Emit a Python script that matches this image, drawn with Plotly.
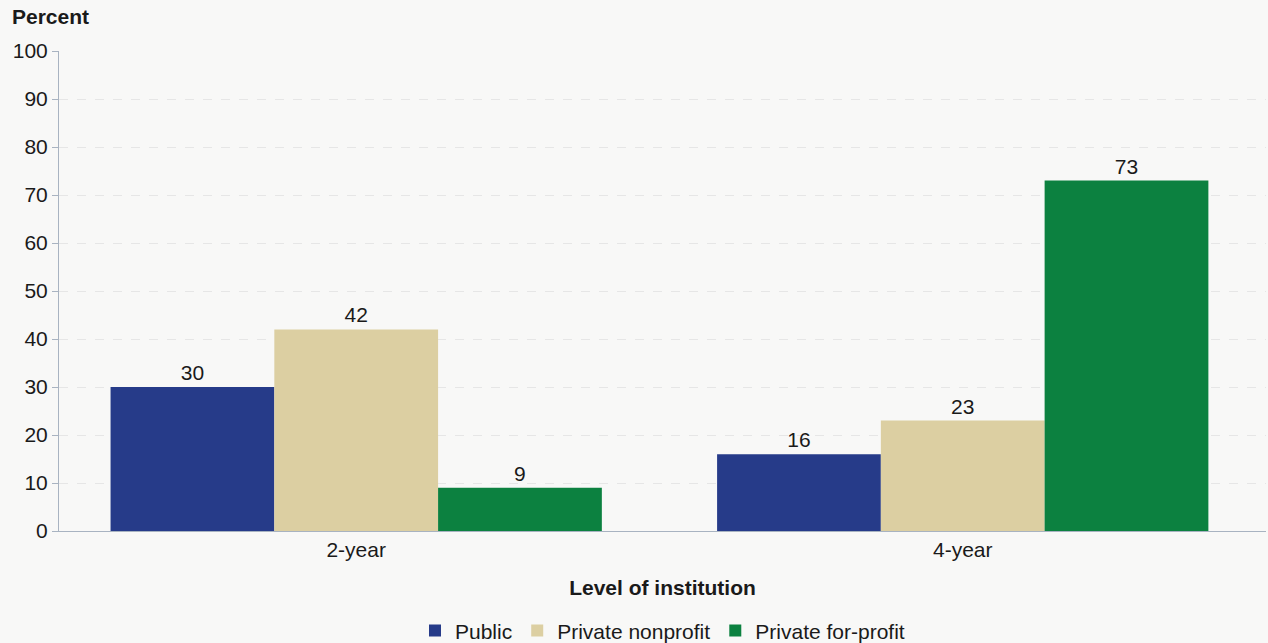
import plotly.graph_objects as go

# Share of students, by level and control of institution
levels = ["2-year", "4-year"]
series_names = ["Public", "Private nonprofit", "Private for-profit"]
public = [30, 16]
private_nonprofit = [42, 23]
private_for_profit = [9, 73]
y_ticks = [0, 10, 20, 30, 40, 50, 60, 70, 80, 90, 100]

colors = ["#263b89", "#dccfa2", "#0c8140"]
values = [public, private_nonprofit, private_for_profit]

FONT = "Liberation Sans, Arial, sans-serif"
BG = "#f8f8f7"
SIZE = 21

fig = go.Figure()
for name, vals, col in zip(series_names, values, colors):
    fig.add_trace(go.Bar(
        x=levels, y=vals, name=name,
        marker=dict(color=col, line=dict(width=0)),
        text=[str(v) for v in vals], textposition="outside",
        textfont=dict(size=SIZE, color="#1a1a1a", family=FONT),
        cliponaxis=False,
    ))

fig.update_layout(
    width=1268, height=643,
    paper_bgcolor=BG, plot_bgcolor=BG,
    font=dict(family=FONT, size=SIZE, color="#1a1a1a"),
    barmode="group", bargap=0.19, bargroupgap=0,
    margin=dict(l=59, r=2, t=51, b=112, autoexpand=False),
    showlegend=True,
    legend=dict(orientation="h", x=0.5, xanchor="center",
                yref="container", y=0.019, yanchor="middle",
                font=dict(size=SIZE), itemwidth=30, traceorder="normal"),
    xaxis=dict(
        range=[-0.49, 1.5], automargin=False,
        showgrid=False, showline=True, linecolor="#a8b3c1", linewidth=1,
        ticks="", ticklen=0, tickfont=dict(size=SIZE),
        title=dict(text="<b>Level of institution</b>", font=dict(size=SIZE), standoff=20),
    ),
    yaxis=dict(
        range=[0, 100], tickvals=y_ticks, automargin=False,
        showline=True, linecolor="#a8b3c1", linewidth=1,
        ticks="outside", ticklen=6, tickcolor="#a8b3c1",
        showgrid=True, gridcolor="#e6e6e6", griddash="dash", gridwidth=1,
        zeroline=False, tickfont=dict(size=SIZE),
    ),
    annotations=[dict(
        text="<b>Percent</b>", xref="paper", yref="paper", x=-0.0405, y=1.0,
        xanchor="left", yanchor="bottom", yshift=21, showarrow=False,
        font=dict(size=SIZE, family=FONT, color="#1a1a1a"),
    )],
)

fig.write_html("out.html")
